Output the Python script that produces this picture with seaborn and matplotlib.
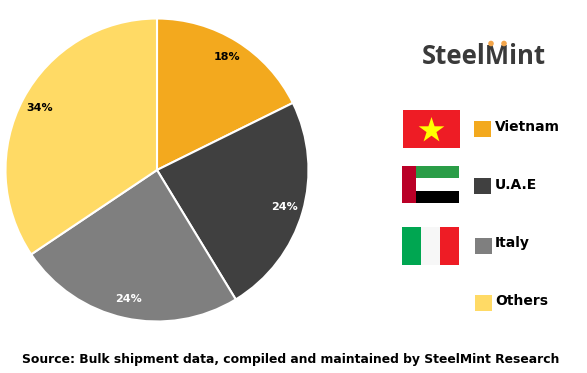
import matplotlib
matplotlib.use('Agg')
import matplotlib.pyplot as plt
from matplotlib.patches import Rectangle, Polygon, Circle
import numpy as np
import seaborn as sns

# values
countries = ['Vietnam', 'U.A.E', 'Italy', 'Others']
shares = [17.7, 23.6, 24.3, 34.4]
share_labels = ['18%', '24%', '24%', '34%']
colors = ['#F3A91E', '#404040', '#7F7F7F', '#FFDA65']
label_colors = ['black', 'white', 'white', 'black']
source = 'Source: Bulk shipment data, compiled and maintained by SteelMint Research'

sns.set_theme(style='white')
plt.rcParams['font.family'] = ['DejaVu Sans']

W, H = 587, 373
fig = plt.figure(figsize=(W / 100, H / 100), dpi=100)
fig.patch.set_facecolor('white')

# overlay in pixel coordinates, for logo, flags and legend
bg = fig.add_axes([0, 0, 1, 1])
bg.set_xlim(0, W)
bg.set_ylim(H, 0)
bg.axis('off')

# pie
cx, cy, r = 157, 170, 151.5
ax = fig.add_axes([(cx - r) / W, 1 - (cy + r) / H, 2 * r / W, 2 * r / H])
wedges, _ = ax.pie(shares, colors=colors, startangle=90, counterclock=False, radius=1,
                   wedgeprops={'edgecolor': 'white', 'linewidth': 1.5})
ax.set_xlim(-1, 1)
ax.set_ylim(-1, 1)

# labels sit near the rim
for w, lab, c in zip(wedges, share_labels, label_colors):
    ang = np.deg2rad((w.theta1 + w.theta2) / 2)
    ax.text(0.875 * np.cos(ang), 0.875 * np.sin(ang), lab, color=c, ha='center', va='center',
            fontsize=8, fontweight='bold')

# logo
bg.text(422, 56, 'SteelMint', fontsize=18.5, fontweight='bold', color='#3A3A3A', va='center', ha='left',
        family='Open Sans')
bg.add_patch(Circle((491, 43.5), 2.8, color='#F3A54A', lw=0, zorder=5))
bg.add_patch(Circle((504, 43.5), 2.8, color='#F3A54A', lw=0, zorder=5))

# Vietnam flag
bg.add_patch(Rectangle((403, 110), 57, 38, color='#EE1C25', lw=0))
star_r = [13.5, 5.2] * 5
star_a = np.deg2rad(np.arange(10) * 36)
star = [(431.5 + q * np.sin(a), 130.5 - q * np.cos(a)) for q, a in zip(star_r, star_a)]
bg.add_patch(Polygon(star, color='#FFFF00', lw=0))

# UAE flag
bg.add_patch(Rectangle((416, 166), 43, 12, color='#2A9D47', lw=0))
bg.add_patch(Rectangle((416, 178), 43, 13, color='white', lw=0))
bg.add_patch(Rectangle((416, 191), 43, 12, color='black', lw=0))
bg.add_patch(Rectangle((402, 166), 14, 37, color='#BA0027', lw=0))

# Italy flag
bg.add_patch(Rectangle((402, 227), 19, 38, color='#00A651', lw=0))
bg.add_patch(Rectangle((421, 227), 19, 38, color='#F7F7F7', lw=0))
bg.add_patch(Rectangle((440, 227), 19, 38, color='#EE1C25', lw=0))

# legend
swatch_x = [474, 474, 475, 475]
swatch_y = [121, 178, 238, 295]
text_y = [127, 185, 243, 301]
for name, c, sx, sy, ty in zip(countries, colors, swatch_x, swatch_y, text_y):
    bg.add_patch(Rectangle((sx, sy), 17, 16, color=c, lw=0))
    bg.text(495, ty, name, fontsize=10, fontweight='bold', color='black', va='center', ha='left')

bg.text(22, 359, source, fontsize=8.95, fontweight='bold', color='black', va='center', ha='left')

fig.savefig('out.png', dpi=100)
